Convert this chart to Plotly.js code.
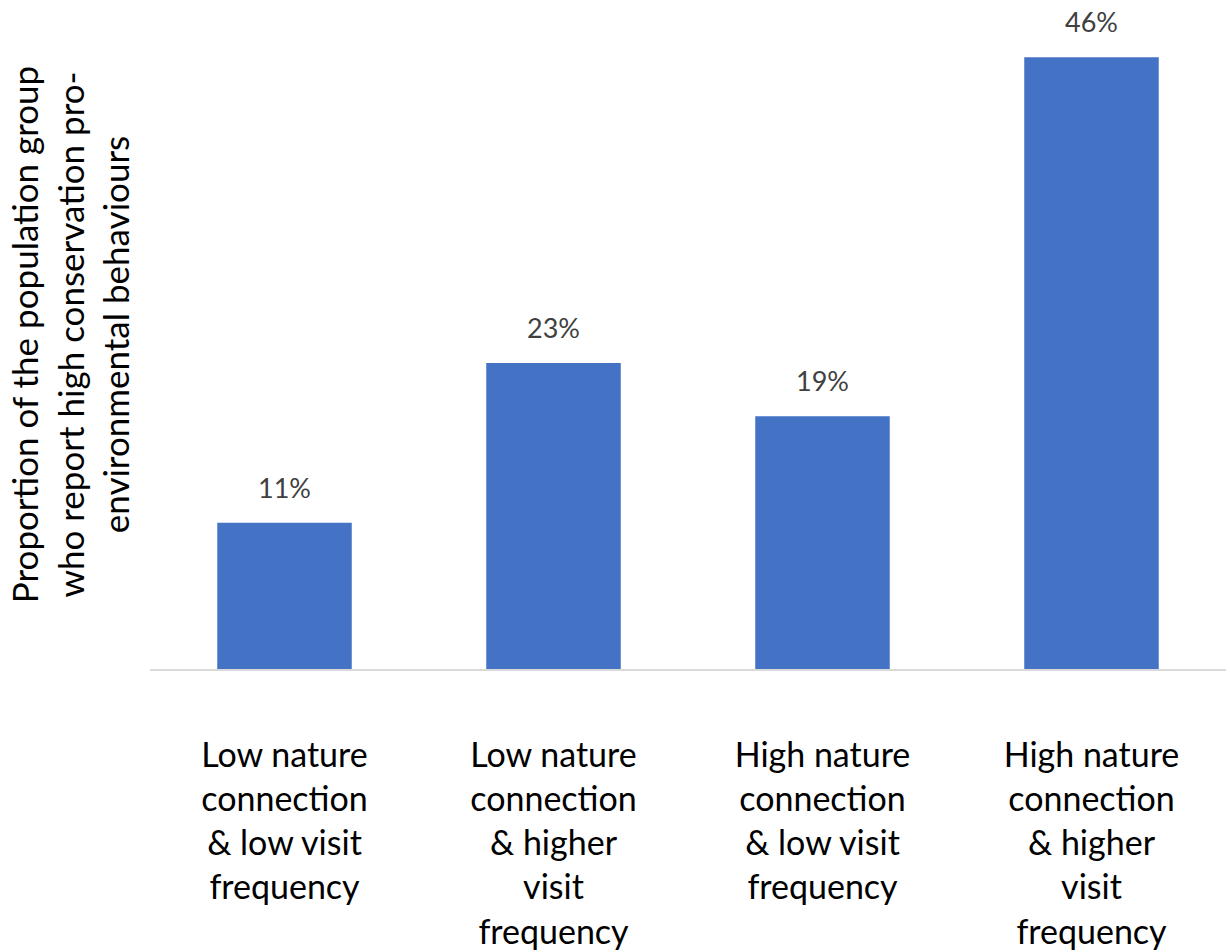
<!DOCTYPE html>
<html>
<head>
<meta charset="utf-8">
<script src="https://cdn.plot.ly/plotly-3.0.1.min.js"></script>
<style>html,body{margin:0;padding:0;background:#fff;}#chart{width:1230px;height:952px;}</style>
</head>
<body>
<div id="chart"></div>
<script>
const categories = [
  "Low nature<br>connection<br>&amp; low visit<br>frequency",
  "Low nature<br>connection<br>&amp; higher<br>visit<br>frequency",
  "High nature<br>connection<br>&amp; low visit<br>frequency",
  "High nature<br>connection<br>&amp; higher<br>visit<br>frequency"
];
const values = [11, 23, 19, 46];
const valueLabels = ["11%", "23%", "19%", "46%"];
const yTitle = "Proportion of the population group<br>who report high conservation pro-<br>environmental behaviours";

const FONT = "Lato, 'Open Sans', sans-serif";

const trace = {
  type: "bar",
  x: categories,
  y: values,
  marker: {color: "#4472c4"},
  hoverinfo: "skip"
};

const annotations = categories.map((c, i) => ({
  x: c, y: values[i], text: valueLabels[i],
  showarrow: false, yanchor: "bottom", yshift: 17,
  font: {family: FONT, size: 27, color: "#404040"}
}));

const layout = {
  width: 1230, height: 952,
  margin: {l: 150, r: 4, t: 0, b: 283},
  paper_bgcolor: "#fff", plot_bgcolor: "#fff",
  bargap: 0.5,
  showlegend: false,
  font: {family: FONT},
  xaxis: {
    showline: true, linecolor: "#d9d9d9", linewidth: 2,
    ticks: "", showgrid: false,
    tickfont: {family: FONT, size: 34, color: "#000"},
    ticklabelstandoff: 55,
    automargin: false
  },
  yaxis: {
    range: [0, 50.3],
    showgrid: false, zeroline: false, showticklabels: false, ticks: "",
    title: {text: yTitle, font: {family: FONT, size: 35, color: "#000"}, standoff: 8},
    automargin: false
  },
  annotations: annotations
};

Plotly.newPlot("chart", [trace], layout, {displayModeBar: false, staticPlot: true});
</script>
</body>
</html>
